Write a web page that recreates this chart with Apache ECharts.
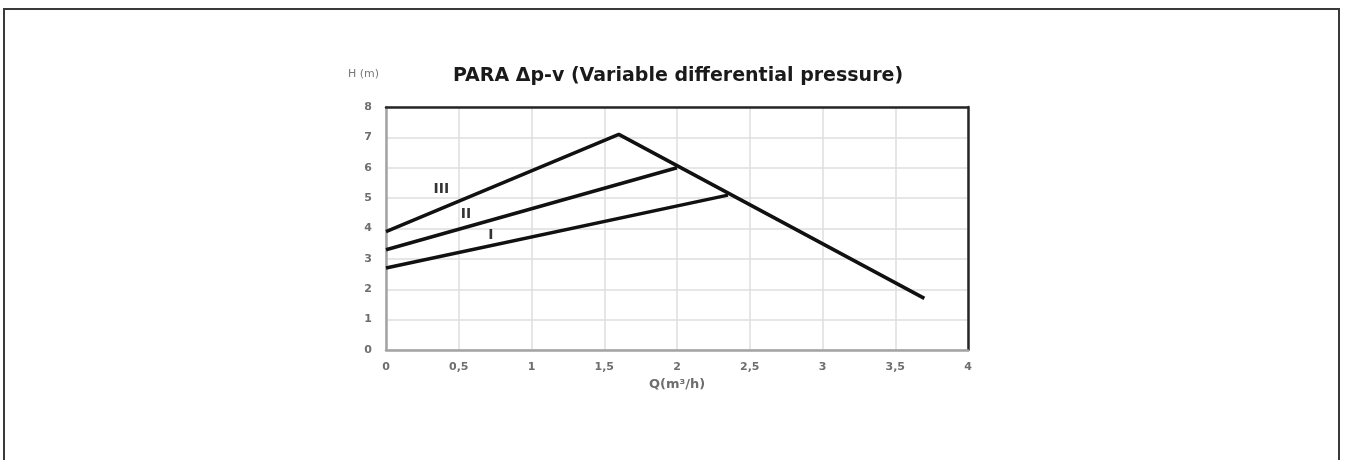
<!DOCTYPE html>
<html>
<head>
<meta charset="utf-8">
<script src="https://cdn.jsdelivr.net/npm/echarts@6/dist/echarts.min.js"></script>
<style>
  html, body { margin: 0; padding: 0; background: #fff; }
  #frame { position: absolute; left: 3px; top: 8px; width: 1333px; height: 470px;
           border: 2px solid #3a3a3a; border-bottom: none; }
  #chart { position: absolute; left: 0; top: 0; width: 1345px; height: 460px; }
</style>
</head>
<body>
<div id="frame"></div>
<div id="chart"></div>
<script>
// Pump head curves, H (m) against flow Q (m³/h)
const curveIII = [[0, 3.9], [1.6, 7.1], [3.7, 1.7]];
const curveII  = [[0, 3.3], [2.0, 6.0]];
const curveI   = [[0, 2.7], [2.35, 5.1]];
const curveNames = ['III', 'II', 'I'];
const xTicks = [0, 0.5, 1, 1.5, 2, 2.5, 3, 3.5, 4];
const yTicks = [0, 1, 2, 3, 4, 5, 6, 7, 8];

const chart = echarts.init(document.getElementById('chart'));
const fontFam = '"DejaVu Sans", Verdana, sans-serif';
const gridLine = { show: true, lineStyle: { color: '#dedede', width: 1.5 } };
const labelFont = { fontFamily: fontFam, fontWeight: 'bold', fontSize: 11, color: '#6e6e6e' };

function curve(name, data) {
  return {
    name: name, type: 'line', data: data, symbol: 'none',
    lineStyle: { color: '#111', width: 3.5 }, animation: false, z: 3
  };
}

// curve names sit just above each line near the left edge
const nameAnchors = [[0.38, 5.28], [0.55, 4.45], [0.72, 3.78]];

chart.setOption({
  animation: false,
  title: {
    text: 'PARA Δp-v (Variable differential pressure)',
    left: 673, top: 62, textAlign: 'center',
    textStyle: { fontFamily: fontFam, fontWeight: 'bold', fontSize: 19, color: '#1a1a1a' }
  },
  grid: { left: 386, top: 107, right: 377, bottom: 110 },
  xAxis: [{
    type: 'value', min: 0, max: 4, interval: 0.5, position: 'bottom',
    name: 'Q(m³/h)', nameLocation: 'middle', nameGap: 27,
    nameTextStyle: Object.assign({}, labelFont, { fontSize: 13 }),
    axisLine: { show: true, onZero: false, lineStyle: { color: '#a3a3a3', width: 2.5 } },
    axisTick: { show: false },
    splitLine: gridLine,
    axisLabel: Object.assign({ margin: 12,
      formatter: v => (xTicks.includes(v) ? String(v).replace('.', ',') : '') }, labelFont)
  }, {
    // dark top edge of the plot frame
    type: 'value', min: 0, max: 4, position: 'top',
    axisLine: { show: true, onZero: false, lineStyle: { color: '#262626', width: 2.5 } },
    axisTick: { show: false }, axisLabel: { show: false }, splitLine: { show: false }
  }],
  yAxis: [{
    type: 'value', min: 0, max: 8, interval: 1, position: 'left',
    name: 'H (m)', nameLocation: 'end', nameGap: 27,
    nameTextStyle: Object.assign({}, labelFont, { align: 'right', padding: [0, 7, 0, 0],
                                                  fontWeight: 'normal', color: '#777' }),
    axisLine: { show: true, onZero: false, lineStyle: { color: '#a3a3a3', width: 2.5 } },
    axisTick: { show: false },
    splitLine: gridLine,
    axisLabel: Object.assign({ margin: 14,
      formatter: v => (yTicks.includes(v) ? String(v) : '') }, labelFont)
  }, {
    // dark right edge of the plot frame
    type: 'value', min: 0, max: 8, position: 'right',
    axisLine: { show: true, onZero: false, lineStyle: { color: '#262626', width: 2.5 } },
    axisTick: { show: false }, axisLabel: { show: false }, splitLine: { show: false }
  }],
  series: [
    curve(curveNames[0], curveIII),
    curve(curveNames[1], curveII),
    curve(curveNames[2], curveI),
    {
      type: 'scatter', symbolSize: 0, silent: true, z: 4,
      data: curveNames.map((n, i) => ({ value: nameAnchors[i], name: n })),
      label: {
        show: true, position: 'inside', formatter: p => p.name,
        fontFamily: fontFam, fontWeight: 'bold', fontSize: 14, color: '#000'
      }
    }
  ]
});
</script>
</body>
</html>
